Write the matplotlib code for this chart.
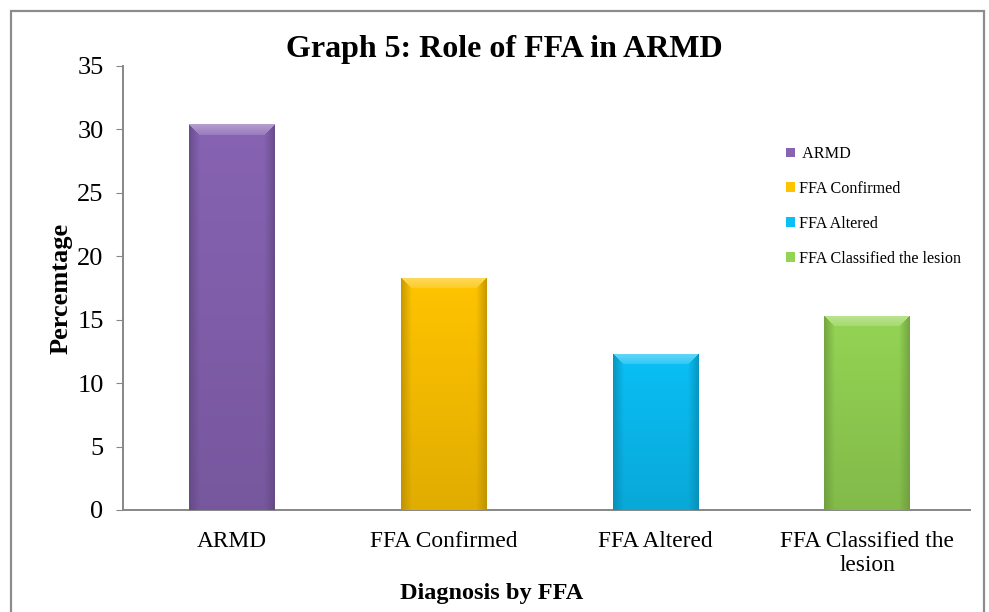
import numpy as np
import matplotlib
matplotlib.use("Agg")
import matplotlib.pyplot as plt
from matplotlib.patches import Rectangle
from matplotlib.colors import to_rgb

categories = ["ARMD", "FFA Confirmed", "FFA Altered", "FFA Classified the lesion"]
legend_labels = [" ARMD", "FFA Confirmed", "FFA Altered", "FFA Classified the lesion"]
tick_labels = ["ARMD", "FFA Confirmed", "FFA Altered", "FFA Classified the\nlesion"]
percentages = [30.4, 18.3, 12.3, 15.3]
bar_colors = ["#8763b3", "#ffc400", "#0abff5", "#94d454"]

plt.rcParams["font.family"] = ["Liberation Serif", "DejaVu Serif"]

fig = plt.figure(figsize=(9.89, 6.12), dpi=100)
ax = fig.add_axes([0.1244, 0.1667, 0.8564, 0.7255])

x = np.arange(len(categories))
bar_width = 0.405
bars = ax.bar(x, percentages, width=bar_width, color=bar_colors,
              label=categories, zorder=2)

ax.set_xlim(-0.515, len(categories) - 0.515)
ax.set_ylim(0, 35)
ax.set_yticks(np.arange(0, 36, 5))
ax.set_xticks(x)
ax.set_xticklabels(tick_labels, fontsize=16.8, linespacing=1.2)
ax.tick_params(axis="x", length=0, pad=15)
ax.tick_params(axis="y", length=5, color="#878787", labelsize=19, pad=9)

for side in ("top", "right"):
    ax.spines[side].set_visible(False)
for side in ("left", "bottom"):
    ax.spines[side].set_color("#878787")
    ax.spines[side].set_linewidth(1.4)

fig.canvas.draw()


def shade(color, factor):
    c = np.array(to_rgb(color))
    if factor >= 0:
        return c + (1 - c) * factor
    return c * (1 + factor)


# bevelled fill for each bar, clipped to the bar's own rectangle
for rect, color in zip(bars, bar_colors):
    bb = rect.get_window_extent()
    wpx = max(int(round(bb.width)), 2)
    hpx = max(int(round(bb.height)), 2)
    yy, xx = np.mgrid[0:hpx, 0:wpx]
    d_left = xx + 0.5
    d_right = wpx - xx - 0.5
    d_top = yy + 0.5
    bevel = 11.0
    img = np.zeros((hpx, wpx, 3))
    img[:] = shade(color, 0.0)
    # soft vertical darkening toward the bottom
    vert = (yy / hpx)[..., None]
    img = img * (1 - 0.12 * vert)
    # side bevels (darker)
    side = np.minimum(d_left, d_right)
    side_mask = (side < bevel) & (side < d_top)
    side_amt = (1 - side / bevel)
    dark = shade(color, -0.28)
    img[side_mask] = (img[side_mask] * (1 - side_amt[side_mask, None] * 0.8)
                      + dark * side_amt[side_mask, None] * 0.8)
    # top bevel (lighter)
    top_mask = (d_top < bevel) & (d_top <= side)
    top_amt = (1 - d_top / bevel)
    light = shade(color, 0.38)
    w = 0.4 + 0.6 * top_amt[top_mask, None]
    img[top_mask] = img[top_mask] * (1 - w) + light * w
    x0 = rect.get_x()
    x1 = x0 + rect.get_width()
    h = rect.get_height()
    im = ax.imshow(img, extent=(x0, x1, 0, h), aspect="auto",
                   interpolation="bilinear", zorder=3)
    im.set_clip_path(rect)

ax.set_xlim(-0.515, len(categories) - 0.515)
ax.set_ylim(0, 35)

ax.set_ylabel("Percemtage", fontsize=19, fontweight="bold", labelpad=3)
fig.text(0.497, 0.022, "Diagnosis by FFA", fontsize=17.5,
         fontweight="bold", ha="center", va="baseline")
fig.text(0.51, 0.907, "Graph 5: Role of FFA in ARMD", fontsize=23,
         fontweight="bold", ha="center", va="baseline")

leg = ax.legend(handles=list(bars), labels=legend_labels, loc="upper left",
                bbox_to_anchor=(0.775, 0.834), frameon=False, fontsize=11.6,
                handlelength=0.55, handleheight=0.55, handletextpad=0.25,
                labelspacing=1.17, borderaxespad=0)

# outer chart frame
fig.patches.append(Rectangle((11 / 989, -0.02), 973 / 989, 1 - 11 / 612 + 0.02,
                             transform=fig.transFigure, fill=False,
                             edgecolor="#8c8c8c", linewidth=1.6))

fig.savefig("out.png", dpi=100)
